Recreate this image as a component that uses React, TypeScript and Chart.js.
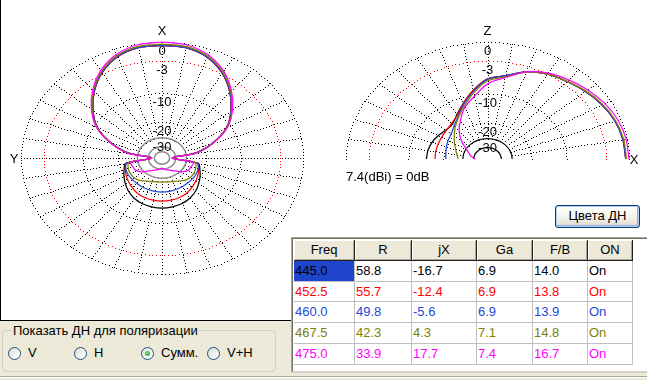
import React, { useEffect, useRef } from "react";
import { Chart, registerables } from "chart.js";

Chart.register(...registerables);

// ---------------- table data ----------------
const TABLE_HEADERS = ["Freq", "R", "jX", "Ga", "F/B", "ON"];
const FREQ_MHZ = [445.0, 452.5, 460.0, 467.5, 475.0];
const R_OHM = [58.8, 55.7, 49.8, 42.3, 33.9];
const JX_OHM = [-16.7, -12.4, -5.6, 4.3, 17.7];
const GA_DBI = [6.9, 6.9, 6.9, 7.1, 7.4];
const FB_DB = [14.0, 13.8, 13.9, 14.8, 16.7];
const ON_STATE = ["On", "On", "On", "On", "On"];

// ---------------- pattern data (dB relative to 7.4 dBi) ----------------
// Horizontal plane (left plot), angle from X toward Y
const AZ_ANGLES = [0, 10, 20, 30, 40, 50, 60, 70, 80, 90, 100, 110, 120, 130, 140, 150, 160, 170, 180,
  190, 200, 210, 220, 230, 240, 250, 260, 270, 280, 290, 300, 310, 320, 330, 340, 350, 360];
const AZ_445 = [-0.5, -0.6, -1.3, -2.8, -5.0, -7.7, -10.9, -16.3, -24.5, -45, -23, -21.5, -20, -18.5, -17, -15.8, -15, -14.6, -14.4,
  -14.6, -15, -15.8, -17, -18.5, -20, -21.5, -23, -45, -24.5, -16.3, -10.9, -7.7, -5.0, -2.8, -1.3, -0.6, -0.5];
const AZ_452 = [-0.5, -0.6, -1.3, -2.8, -5.0, -7.7, -10.9, -16.3, -24.5, -45, -23.5, -22, -21, -20, -19, -18, -17.4, -17.1, -17,
  -17.1, -17.4, -18, -19, -20, -21, -22, -23.5, -45, -24.5, -16.3, -10.9, -7.7, -5.0, -2.8, -1.3, -0.6, -0.5];
const AZ_460 = [-0.5, -0.6, -1.25, -2.75, -4.95, -7.65, -10.8, -16.2, -24.4, -45, -23.5, -22.3, -21.9, -21.8, -21.7, -21.5, -21.3, -21.1, -21,
  -21.1, -21.3, -21.5, -21.7, -21.8, -21.9, -22.3, -23.5, -45, -24.4, -16.2, -10.8, -7.65, -4.95, -2.75, -1.25, -0.6, -0.5];
const AZ_467 = [-0.3, -0.4, -1.1, -2.6, -4.8, -7.5, -10.7, -16.1, -24.2, -45, -24.5, -23.5, -23, -23, -23.7, -25.3, -26.3, -26.8, -27,
  -26.8, -26.3, -25.3, -23.7, -23, -23, -23.5, -24.5, -45, -24.2, -16.1, -10.7, -7.5, -4.8, -2.6, -1.1, -0.4, -0.3];
const AZ_475 = [0, -0.15, -0.9, -2.4, -4.6, -7.3, -10.6, -16, -24, -45, -25.5, -26, -26.5, -29, -33, -36, -38, -40, -42,
  -40, -38, -36, -33, -29, -26.5, -26, -25.5, -45, -24, -16, -10.6, -7.3, -4.6, -2.4, -0.9, -0.15, 0];

// Vertical plane (right plot), angle from X toward Z
const EL_ANGLES = [0, 10, 20, 30, 40, 50, 60, 70, 80, 90, 100, 110, 120, 130, 140, 150, 160, 170, 180];
const EL_445 = [-0.4, -0.5, -0.75, -1.2, -1.8, -2.45, -3.0, -4.0, -5.6, -6.5, -9.0, -11.8, -14.3, -16.3, -16.4, -15.7, -15, -14.6, -14.4];
const EL_452 = [-0.4, -0.5, -0.75, -1.2, -1.8, -2.45, -3.0, -4.0, -5.6, -6.5, -9.0, -11.8, -14.5, -15.9, -16.6, -16.9, -17, -17, -17];
const EL_460 = [-0.4, -0.5, -0.75, -1.2, -1.8, -2.45, -3.0, -4.0, -5.6, -6.6, -9.2, -12.1, -15.0, -17.2, -18.8, -19.5, -20.2, -20.7, -21];
const EL_467 = [-0.3, -0.4, -0.65, -1.1, -1.7, -2.4, -3.0, -4.1, -5.8, -6.9, -9.6, -12.6, -15.3, -17.8, -20.3, -22.5, -24.5, -26, -27];
const EL_475 = [0, -0.1, -0.35, -0.8, -1.4, -2.1, -2.8, -4.0, -6.0, -7.6, -10.5, -13.0, -16.5, -20, -24.5, -30, -34, -37, -42];

const AZ_SERIES = [AZ_445, AZ_452, AZ_460, AZ_467, AZ_475];
const EL_SERIES = [EL_445, EL_452, EL_460, EL_467, EL_475];
const SERIES_COLORS = ["#000000", "#ff0000", "#2347d9", "#808000", "#ff00ff"];

// ---------------- grid / scale ----------------
const GRID_DB = [0, -3, -10, -20];
const GRID_COLORS = ["#000000", "#ff0000", "#000000", "#000000"];
const RING_DB_AZ = [-30, -40, -50];
const RING_DB_EL = [-30, -40];
const LEVEL_DB = [0, -3, -10, -20, -30];
const LEVEL_LABELS = ["0", "-3", "-10", "-20", "-30"];
const SPOKES_AZ = [0, 10, 20, 30, 40, 50, 60, 70, 80, 90, 100, 110, 120, 130, 140, 150, 160, 170,
  180, 190, 200, 210, 220, 230, 240, 250, 260, 270, 280, 290, 300, 310, 320, 330, 340, 350];
const SPOKES_EL = [10, 20, 30, 40, 50, 60, 70, 80, 90, 100, 110, 120, 130, 140, 150, 160, 170];
const GAIN_REF_TEXT = "7.4(dBi) = 0dB";
const POLARIZATIONS = ["V", "H", "Сумм.", "V+H"];
const SELECTED_POL = 2;

const FONT = "'Liberation Sans', Arial, Helvetica, sans-serif";

// ARRL log scale: 0.89 ratio per 2 dB
const dbToRho = (db: number) => Math.pow(0.89, -db / 2);

function azPoints(vals: number[]) {
  return AZ_ANGLES.map((a, i) => {
    const r = dbToRho(vals[i]);
    const t = (a * Math.PI) / 180;
    return { x: -r * Math.sin(t), y: r * Math.cos(t) };
  });
}
function elPoints(vals: number[]) {
  return EL_ANGLES.map((a, i) => {
    const r = dbToRho(vals[i]);
    const t = (a * Math.PI) / 180;
    return { x: r * Math.cos(t), y: r * Math.sin(t) };
  });
}

type GridCfg = {
  half: boolean;
  rings: number[];
  ringColor: string;
  ringWidth: number;
  spokes: number[];
  topLabel: string;
  sideLabel: string;
  sideDir: number;
  sideOffset: number;
};

function makeGridPlugin(cfg: GridCfg) {
  return {
    id: "polarGrid",
    beforeDatasetsDraw(chart: any) {
      const ctx = chart.ctx as CanvasRenderingContext2D;
      const xs = chart.scales.x;
      const ys = chart.scales.y;
      const cx = xs.getPixelForValue(0);
      const cy = ys.getPixelForValue(0);
      const rx = xs.getPixelForValue(1) - cx;
      const ry = cy - ys.getPixelForValue(1);
      const dir = (deg: number) => {
        const t = (deg * Math.PI) / 180;
        return cfg.half ? [Math.cos(t), Math.sin(t)] : [-Math.sin(t), Math.cos(t)];
      };
      const dot = (x: number, y: number) => ctx.fillRect(Math.round(x), Math.round(y), 1, 1);
      ctx.save();
      // dotted spokes (crisp 1px dots)
      ctx.fillStyle = "#000";
      const r0 = dbToRho(-30);
      cfg.spokes.forEach((a) => {
        const [ux, uy] = dir(a);
        const x0 = cx + ux * rx * r0, y0 = cy - uy * ry * r0;
        const x1 = cx + ux * rx, y1 = cy - uy * ry;
        const len = Math.hypot(x1 - x0, y1 - y0);
        const n = Math.floor(len / 3);
        for (let k = 0; k <= n; k++) {
          const f = k / n;
          dot(x1 + (x0 - x1) * f, y1 + (y0 - y1) * f);
        }
      });
      // dotted level circles
      const maxA = cfg.half ? Math.PI : 2 * Math.PI;
      GRID_DB.forEach((db, i) => {
        const r = dbToRho(db);
        const ax = rx * r, ay = ry * r;
        ctx.fillStyle = GRID_COLORS[i];
        const perim = Math.PI * (ax + ay) * (maxA / (2 * Math.PI));
        const n = Math.round(perim / 3.5);
        for (let k = 0; k <= n; k++) {
          const t = (k / n) * maxA;
          dot(cx + ax * Math.cos(t), cy - ay * Math.sin(t));
        }
      });
      // solid inner rings
      const endA = cfg.half ? 2 * Math.PI : 3 * Math.PI;
      ctx.strokeStyle = cfg.ringColor;
      ctx.lineWidth = cfg.ringWidth;
      cfg.rings.forEach((db) => {
        const r = dbToRho(db);
        ctx.beginPath();
        ctx.ellipse(cx, cy, rx * r, ry * r, 0, Math.PI, endA);
        ctx.stroke();
      });
      // labels
      ctx.fillStyle = "#000";
      ctx.font = `13px ${FONT}`;
      ctx.textAlign = "center";
      ctx.textBaseline = "top";
      LEVEL_DB.forEach((db, i) => {
        ctx.fillText(LEVEL_LABELS[i], cx, cy - ry * dbToRho(db) + 3);
      });
      ctx.textBaseline = "alphabetic";
      ctx.fillText(cfg.topLabel, cx, cy - ry - 7);
      ctx.textBaseline = "middle";
      ctx.fillText(cfg.sideLabel, cx + cfg.sideDir * (rx + cfg.sideOffset), cy + 1);
      ctx.restore();
    },
  };
}

function makePolarChart(
  canvas: HTMLCanvasElement,
  series: { x: number; y: number }[][],
  box: { w: number; h: number; cx: number; cy: number; rx: number; ry: number },
  grid: GridCfg
) {
  return new Chart(canvas, {
    type: "scatter",
    data: {
      datasets: series.map((pts, i) => ({
        data: pts,
        showLine: true,
        borderColor: SERIES_COLORS[i],
        backgroundColor: SERIES_COLORS[i],
        borderWidth: 1.25,
        pointRadius: 0,
        tension: 0.3,
        fill: false,
        order: series.length - i,
      })),
    },
    options: {
      animation: false,
      responsive: false,
      events: [],
      layout: { padding: 0 },
      plugins: { legend: { display: false }, tooltip: { enabled: false } },
      scales: {
        x: { type: "linear", display: false, min: -box.cx / box.rx, max: (box.w - box.cx) / box.rx },
        y: { type: "linear", display: false, min: -(box.h - box.cy) / box.ry, max: box.cy / box.ry },
      },
    } as any,
    plugins: [makeGridPlugin(grid)],
  });
}

const LEFT_BOX = { w: 322, h: 320, cx: 162, cy: 158, rx: 141, ry: 116 };
const RIGHT_LEFT = 330;
const RIGHT_BOX = { w: 317, h: 200, cx: 157.5, cy: 159, rx: 141.5, ry: 117 };

const COL_X = [294, 355, 412, 477, 533, 588];
const COL_W = [61, 57, 65, 56, 55, 45];
const ROW_Y = [261, 282, 302, 323, 344];
const ROW_H = [21, 20, 21, 21, 21];
const RADIO_X = [14, 80, 147, 213];

export default function App() {
  const leftRef = useRef<HTMLCanvasElement>(null);
  const rightRef = useRef<HTMLCanvasElement>(null);

  useEffect(() => {
    const left = makePolarChart(leftRef.current!, AZ_SERIES.map(azPoints), LEFT_BOX, {
      half: false,
      rings: RING_DB_AZ,
      ringColor: "#8a8a8a",
      ringWidth: 1.5,
      spokes: SPOKES_AZ,
      topLabel: "X",
      sideLabel: "Y",
      sideDir: -1,
      sideOffset: 7,
    });
    const right = makePolarChart(rightRef.current!, EL_SERIES.map(elPoints), RIGHT_BOX, {
      half: true,
      rings: RING_DB_EL,
      ringColor: "#000000",
      ringWidth: 1.2,
      spokes: SPOKES_EL,
      topLabel: "Z",
      sideLabel: "X",
      sideDir: 1,
      sideOffset: 5,
    });
    return () => {
      left.destroy();
      right.destroy();
    };
  }, []);

  const rows = FREQ_MHZ.map((f, i) => [
    f.toFixed(1),
    R_OHM[i].toFixed(1),
    JX_OHM[i].toFixed(1),
    GA_DBI[i].toFixed(1),
    FB_DB[i].toFixed(1),
    ON_STATE[i],
  ]);

  const abs = (s: React.CSSProperties): React.CSSProperties => ({ position: "absolute", boxSizing: "border-box", ...s });

  return (
    <div
      style={{
        position: "absolute",
        left: 0,
        top: 0,
        width: 647,
        height: 380,
        overflow: "hidden",
        background: "#ece9d8",
        fontFamily: FONT,
        fontSize: 13,
        color: "#000",
      }}
    >
      <div style={abs({ left: 0, top: 0, width: 647, height: 237, background: "#fff" })} />
      <div
        style={abs({
          left: 0,
          top: 0,
          width: 292,
          height: 321,
          background: "#fff",
          borderLeft: "1px solid #000",
          borderBottom: "1px solid #000",
        })}
      />
      <canvas
        ref={leftRef}
        width={LEFT_BOX.w}
        height={LEFT_BOX.h}
        style={{ position: "absolute", left: 0, top: 0, width: LEFT_BOX.w, height: LEFT_BOX.h }}
      />
      <canvas
        ref={rightRef}
        width={RIGHT_BOX.w}
        height={RIGHT_BOX.h}
        style={{ position: "absolute", left: RIGHT_LEFT, top: 0, width: RIGHT_BOX.w, height: RIGHT_BOX.h }}
      />
      <div style={abs({ left: 346, top: 169, lineHeight: "16px", whiteSpace: "nowrap" })}>{GAIN_REF_TEXT}</div>

      <div
        style={abs({
          left: 555,
          top: 205,
          width: 85,
          height: 23,
          border: "1px solid #003c74",
          borderRadius: 3,
          background: "linear-gradient(180deg, #ffffff 0%, #f3f2ec 55%, #dcd8cc 100%)",
          boxShadow: "inset 0 0 0 1px #b9cdf2, inset -1px -1px 0 1px #8fa9e0",
          textAlign: "center",
          lineHeight: "20px",
        })}
      >
        Цвета ДН
      </div>

      {/* table frame */}
      <div
        style={abs({
          left: 291,
          top: 237,
          width: 356,
          height: 136,
          background: "#fff",
          borderTop: "1px solid #aca899",
          borderLeft: "1px solid #aca899",
          borderBottom: "2px solid #d4d0c8",
          boxShadow: "inset 1px 1px 0 #716f64",
        })}
      />
      {TABLE_HEADERS.map((h, c) => (
        <div
          key={"h" + c}
          style={abs({
            left: COL_X[c],
            top: 240,
            width: COL_W[c],
            height: 21,
            background: "#ece9d8",
            borderRight: "1px solid #222",
            borderBottom: "1px solid #222",
            boxShadow: "inset 1px 1px 0 #fff, inset -1px -1px 0 #aca899",
            textAlign: "center",
            lineHeight: "20px",
          })}
        >
          {h}
        </div>
      ))}
      {rows.map((r, ri) =>
        r.map((v, c) => {
          const sel = ri === 0 && c === 0;
          return (
            <div
              key={ri + "-" + c}
              style={abs({
                left: COL_X[c],
                top: ROW_Y[ri],
                width: COL_W[c],
                height: ROW_H[ri],
                background: sel ? "#1f45cc" : "#fff",
                borderRight: "1px solid #c0c0c0",
                borderBottom: "1px solid #c0c0c0",
                paddingLeft: 1,
                lineHeight: ROW_H[ri] - 1 + "px",
                whiteSpace: "nowrap",
                color: sel ? "#000" : SERIES_COLORS[ri],
              })}
            >
              {v}
            </div>
          );
        })
      )}

      {/* polarization group */}
      <div
        style={abs({
          left: 2,
          top: 330,
          width: 274,
          height: 42,
          border: "1px solid #d0d0bf",
          borderRadius: 4,
        })}
      />
      <div style={abs({ left: 12, top: 323, lineHeight: "16px", padding: "0 1px", background: "#ece9d8", whiteSpace: "nowrap" })}>
        Показать ДН для поляризации
      </div>
      {POLARIZATIONS.map((p, i) => (
        <React.Fragment key={"r" + i}>
          <div
            style={abs({
              left: RADIO_X[i] - 6.5,
              top: 346.5,
              width: 13,
              height: 13,
              borderRadius: "50%",
              border: "1px solid #1c5180",
              background: "linear-gradient(135deg, #dcdcd4 0%, #f4f4f0 60%, #ffffff 100%)",
            })}
          >
            {i === SELECTED_POL && (
              <div
                style={abs({
                  left: 3,
                  top: 3,
                  width: 5,
                  height: 5,
                  borderRadius: "50%",
                  background: "radial-gradient(circle at 40% 40%, #7de07d, #21a121)",
                })}
              />
            )}
          </div>
          <div style={abs({ left: RADIO_X[i] + 14, top: 345, lineHeight: "16px", whiteSpace: "nowrap" })}>{p}</div>
        </React.Fragment>
      ))}

      <div style={abs({ left: 0, top: 376, width: 647, height: 1, background: "#aca899" })} />
      <div style={abs({ left: 0, top: 377, width: 647, height: 1, background: "#ffffff" })} />
    </div>
  );
}
